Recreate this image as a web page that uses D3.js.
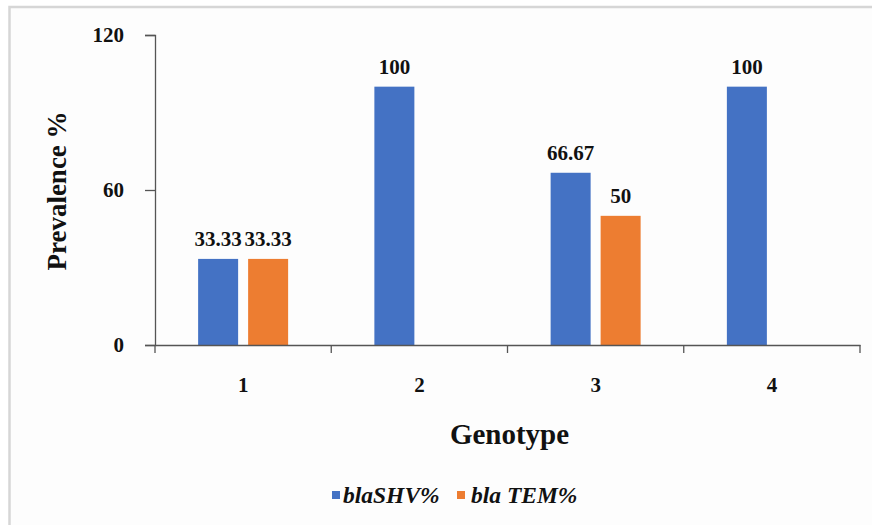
<!DOCTYPE html>
<html>
<head>
<meta charset="utf-8">
<script src="https://cdn.jsdelivr.net/npm/d3@7"></script>
<style>
  html, body { margin: 0; padding: 0; background: #ffffff; }
  svg { display: block; }
</style>
</head>
<body>
<svg id="chart" width="872" height="525"></svg>
<script>
const categories = ["1", "2", "3", "4"];
const seriesNames = ["blaSHV%", "bla TEM%"];
const blaSHV = [33.33, 100, 66.67, 100];
const blaTEM = [33.33, null, 50, null];
const dataLabels = [["33.33", "100", "66.67", "100"], ["33.33", null, "50", null]];
const yTicks = [0, 60, 120];
const colors = ["#4472C4", "#ED7D31"];

const FONT = "'Liberation Serif', 'Times New Roman', 'DejaVu Serif', serif";

const svg = d3.select("#chart");

// frame
svg.append("rect").attr("x", 0).attr("y", 0).attr("width", 872).attr("height", 525).attr("fill", "#ffffff");
svg.append("rect").attr("x", 9.5).attr("y", 7).attr("width", 880).attr("height", 540)
  .attr("fill", "#fdfdfd").attr("stroke", "#d6d6d6").attr("stroke-width", 2.5);

const mLeft = 155, mRight = 860, mTop = 35, mBottom = 345;

const x = d3.scaleBand().domain(categories).range([mLeft, mRight]).paddingInner(0).paddingOuter(0);
const y = d3.scaleLinear().domain([0, 120]).range([mBottom, mTop]);
const xs = d3.scaleBand().domain(seriesNames)
  .range([x.bandwidth() / 2 - 45, x.bandwidth() / 2 + 45]).paddingInner(0.2).paddingOuter(0);

const series = [blaSHV, blaTEM];

function styleText(sel, size) {
  return sel.attr("font-family", FONT).attr("font-weight", "bold").attr("font-size", size).attr("fill", "#111");
}

// bars
series.forEach((vals, si) => {
  svg.append("g").selectAll("rect")
    .data(categories.map((c, i) => ({ c, v: vals[i], l: dataLabels[si][i] })).filter(d => d.v != null))
    .join("rect")
    .attr("x", d => x(d.c) + xs(seriesNames[si]))
    .attr("y", d => y(d.v))
    .attr("width", xs.bandwidth())
    .attr("height", d => y(0) - y(d.v))
    .attr("fill", colors[si]);
});

// y axis
const yAxis = svg.append("g").attr("transform", `translate(${mLeft},0)`)
  .call(d3.axisLeft(y).tickValues(yTicks).tickSize(10).tickPadding(21).tickFormat(d3.format("d")));
yAxis.attr("font-family", FONT);
yAxis.select(".domain").attr("stroke", "#555").attr("stroke-width", 1.3);
yAxis.selectAll(".tick line").attr("stroke", "#555").attr("stroke-width", 1.3);
styleText(yAxis.selectAll(".tick text"), 21);

// x axis
const xAxis = svg.append("g").attr("transform", `translate(0,${mBottom})`)
  .call(d3.axisBottom(x).tickSize(0).tickPadding(0));
xAxis.attr("font-family", FONT);
xAxis.select(".domain").attr("stroke", "#555").attr("stroke-width", 1.3);
styleText(xAxis.selectAll(".tick text").attr("y", 47).attr("dy", 0), 21);
// boundary tick marks between categories
const boundaries = categories.map(c => x(c)).concat([x(categories[categories.length - 1]) + x.bandwidth()]);
xAxis.append("g").selectAll("line").data(boundaries).join("line")
  .attr("x1", d => d).attr("x2", d => d).attr("y1", 0).attr("y2", 8)
  .attr("stroke", "#555").attr("stroke-width", 1.3);

// data labels
series.forEach((vals, si) => {
  styleText(svg.append("g").selectAll("text")
    .data(categories.map((c, i) => ({ c, v: vals[i], l: dataLabels[si][i] })).filter(d => d.v != null))
    .join("text")
    .attr("x", d => x(d.c) + xs(seriesNames[si]) + xs.bandwidth() / 2)
    .attr("y", d => y(d.v) - 13)
    .attr("text-anchor", "middle")
    .text(d => d.l), 21);
});

// axis titles
styleText(svg.append("text")
  .attr("transform", `translate(66,${(mTop + mBottom) / 2 + 1}) rotate(-90)`)
  .attr("text-anchor", "middle")
  .text("Prevalence %"), 27);

styleText(svg.append("text")
  .attr("x", (mLeft + mRight) / 2 + 2)
  .attr("y", 444)
  .attr("text-anchor", "middle")
  .text("Genotype"), 29);

// legend
const legendItems = [
  { name: seriesNames[0], sx: 332, tx: 343 },
  { name: seriesNames[1], sx: 457, tx: 471 }
];
const lg = svg.append("g");
legendItems.forEach((it, i) => {
  lg.append("rect").attr("x", it.sx).attr("y", 491).attr("width", 8).attr("height", 8).attr("fill", colors[i]);
  styleText(lg.append("text").attr("x", it.tx).attr("y", 503)
    .attr("font-style", "italic")
    .text(it.name), 23.5);
});
</script>
</body>
</html>
